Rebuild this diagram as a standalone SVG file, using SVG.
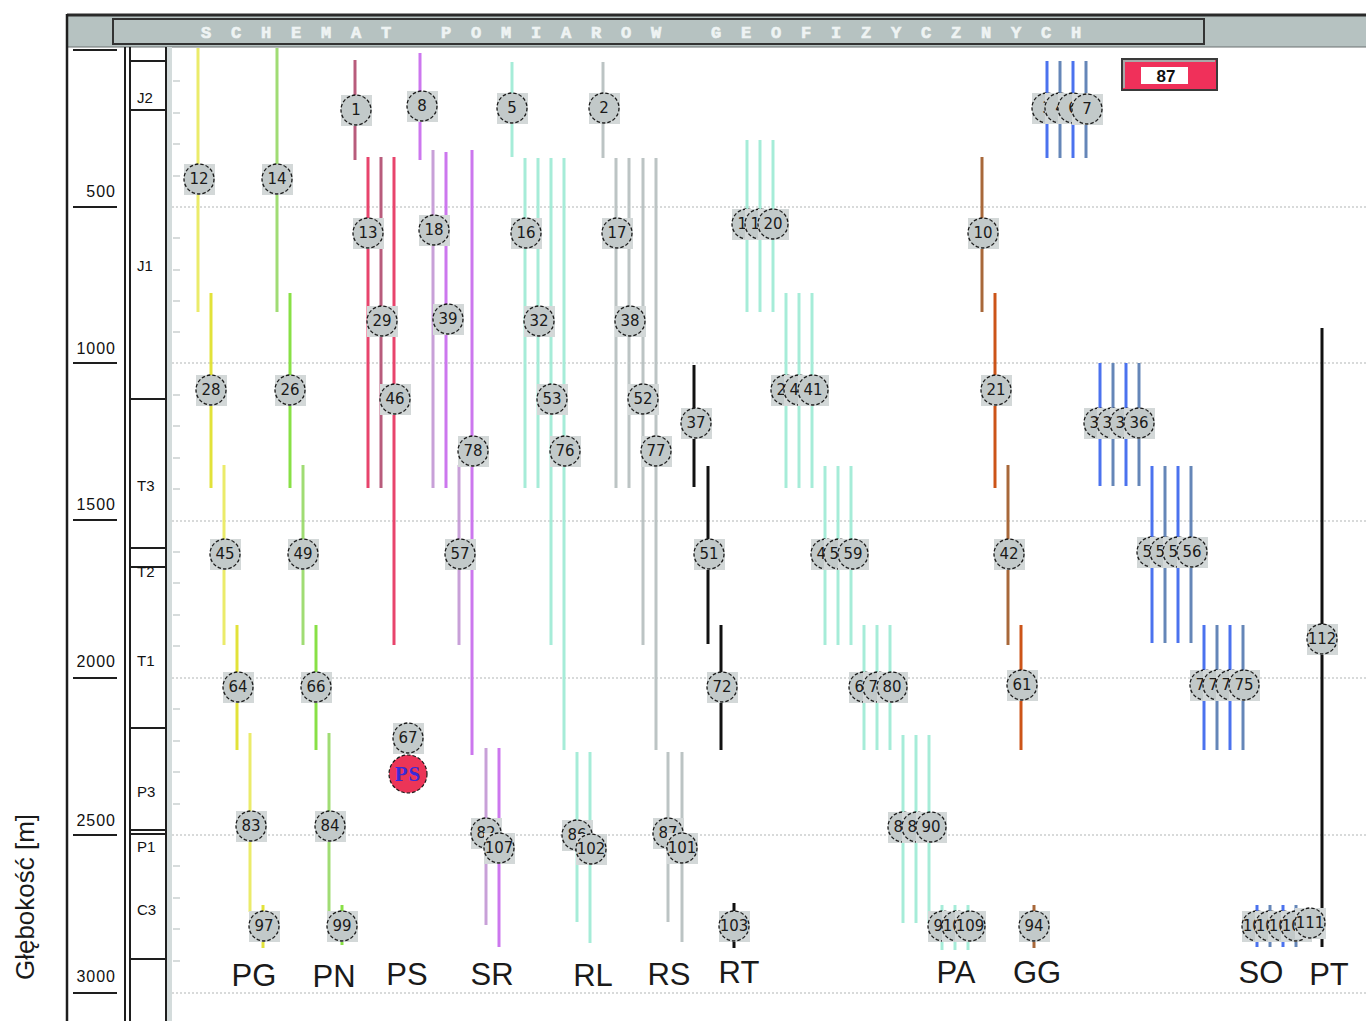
<svg xmlns="http://www.w3.org/2000/svg" width="1366" height="1021" viewBox="0 0 1366 1021">
<style>
  .grid{stroke:#b2b6b6;stroke-width:1.2;stroke-dasharray:2 2}
  .tick{stroke:#bcc4c4;stroke-width:1.2}
  .bar{stroke-width:3;fill:none}
  .node rect{fill:#d3d8d8}
  .node circle{fill:#c2c9c9;stroke:#1a1a1a;stroke-width:1.3;stroke-dasharray:3.5 2}
  .node text{font-family:"DejaVu Sans",sans-serif;font-size:15px;fill:#1a1a1a;text-anchor:middle;dominant-baseline:central}
  .col{font-family:"Liberation Sans",Arial,sans-serif;font-size:31px;fill:#1a1a1a;text-anchor:middle}
  .depth{font-family:"Liberation Sans",Arial,sans-serif;font-size:16px;fill:#111;letter-spacing:1px;text-anchor:end}
  .strat{font-family:"Liberation Sans",Arial,sans-serif;font-size:15px;fill:#111}
  .yl{stroke:#ebeb6a}.yd{stroke:#e2e23a}
  .gl{stroke:#a0dc74}.gd{stroke:#88e046}
  .pk{stroke:#b85c7c}.rd{stroke:#e8446c}
  .vl{stroke:#c8a0d8}.vd{stroke:#cc77ee}
  .mt{stroke:#a6ecd8}
  .gy{stroke:#bcc4c4}
  .bk{stroke:#111}
  .br{stroke:#a8683a}.or{stroke:#cc5418}
  .bb{stroke:#4b72ee}.bs{stroke:#6586b8}
</style>

<!-- page background -->
<rect x="0" y="0" width="1366" height="1021" fill="#fff"/>

<!-- header bar with title -->
<rect x="67" y="14" width="1299" height="33" fill="#b6c2c1"/>
<line x1="67" y1="15" x2="1366" y2="15" stroke="#2a2a2a" stroke-width="3"/>
<line x1="67" y1="47" x2="1366" y2="47" stroke="#6a7070" stroke-width="1"/>
<rect x="113" y="19" width="1091" height="25" fill="none" stroke="#333" stroke-width="2"/>
<text x="201" y="38" font-family="Liberation Mono, monospace" font-size="17" font-weight="bold" letter-spacing="19.8" fill="#eef3f3" stroke="#eef3f3" stroke-width="0.7">SCHEMAT POMIAROW GEOFIZYCZNYCH</text>

<!-- left frame, depth axis and stratigraphic column -->
<line x1="67" y1="14" x2="67" y2="1021" stroke="#1e1e1e" stroke-width="2.5"/>
<line x1="125" y1="47" x2="125" y2="1021" stroke="#1e1e1e" stroke-width="2"/>
<line x1="130" y1="47" x2="130" y2="1021" stroke="#1e1e1e" stroke-width="2"/>
<line x1="166" y1="47" x2="166" y2="1021" stroke="#1e1e1e" stroke-width="2"/>
<rect x="167" y="47" width="5" height="974" fill="#d4dcdc"/>

<g id="depth-scale">
  <g stroke="#1e1e1e" stroke-width="2">
    <line x1="73" y1="50" x2="117" y2="50"/>
    <line x1="73" y1="207" x2="117" y2="207"/>
    <line x1="73" y1="363" x2="117" y2="363"/>
    <line x1="73" y1="520" x2="117" y2="520"/>
    <line x1="73" y1="678" x2="117" y2="678"/>
    <line x1="73" y1="835" x2="117" y2="835"/>
    <line x1="73" y1="993" x2="117" y2="993"/>
  </g>
  <text class="depth" x="116" y="197">500</text>
  <text class="depth" x="116" y="354">1000</text>
  <text class="depth" x="116" y="510">1500</text>
  <text class="depth" x="116" y="667">2000</text>
  <text class="depth" x="116" y="826">2500</text>
  <text class="depth" x="116" y="982">3000</text>
</g>

<g id="stratigraphy">
  <g stroke="#1e1e1e" stroke-width="2">
    <line x1="130" y1="61" x2="166" y2="61"/>
    <line x1="130" y1="110" x2="166" y2="110"/>
    <line x1="130" y1="399" x2="166" y2="399"/>
    <line x1="130" y1="548" x2="166" y2="548"/>
    <line x1="130" y1="567" x2="166" y2="567"/>
    <line x1="130" y1="728" x2="166" y2="728"/>
    <line x1="130" y1="830" x2="166" y2="830"/>
    <line x1="130" y1="834" x2="166" y2="834"/>
    <line x1="130" y1="959" x2="166" y2="959"/>
  </g>
  <text class="strat" x="137" y="103">J2</text>
  <text class="strat" x="137" y="271">J1</text>
  <text class="strat" x="137" y="491">T3</text>
  <text class="strat" x="137" y="577">T2</text>
  <text class="strat" x="137" y="666">T1</text>
  <text class="strat" x="137" y="797">P3</text>
  <text class="strat" x="137" y="852">P1</text>
  <text class="strat" x="137" y="915">C3</text>
</g>

<!-- depth ticks every 100 m and dotted grid every 500 m -->
<g id="ticks" class="tick">
  <line x1="173" y1="81" x2="180" y2="81"/><line x1="173" y1="113" x2="180" y2="113"/>
  <line x1="173" y1="144" x2="180" y2="144"/><line x1="173" y1="176" x2="180" y2="176"/>
  <line x1="173" y1="238" x2="180" y2="238"/><line x1="173" y1="270" x2="180" y2="270"/>
  <line x1="173" y1="301" x2="180" y2="301"/><line x1="173" y1="332" x2="180" y2="332"/>
  <line x1="173" y1="395" x2="180" y2="395"/><line x1="173" y1="426" x2="180" y2="426"/>
  <line x1="173" y1="458" x2="180" y2="458"/><line x1="173" y1="489" x2="180" y2="489"/>
  <line x1="173" y1="552" x2="180" y2="552"/><line x1="173" y1="583" x2="180" y2="583"/>
  <line x1="173" y1="615" x2="180" y2="615"/><line x1="173" y1="646" x2="180" y2="646"/>
  <line x1="173" y1="709" x2="180" y2="709"/><line x1="173" y1="741" x2="180" y2="741"/>
  <line x1="173" y1="772" x2="180" y2="772"/><line x1="173" y1="804" x2="180" y2="804"/>
  <line x1="173" y1="866" x2="180" y2="866"/><line x1="173" y1="898" x2="180" y2="898"/>
  <line x1="173" y1="929" x2="180" y2="929"/><line x1="173" y1="961" x2="180" y2="961"/>
</g>
<g id="grid" class="grid">
  <line x1="172" y1="207" x2="1366" y2="207"/>
  <line x1="172" y1="363" x2="1366" y2="363"/>
  <line x1="172" y1="521" x2="1366" y2="521"/>
  <line x1="172" y1="678" x2="1366" y2="678"/>
  <line x1="172" y1="835" x2="1366" y2="835"/>
  <line x1="172" y1="993" x2="1366" y2="993"/>
</g>

<!-- measurement interval bars -->
<g id="connectors" class="bar">
  <!-- PG -->
  <line class="yl" x1="198" y1="48" x2="198" y2="312"/>
  <line class="yd" x1="211" y1="293" x2="211" y2="488"/>
  <line class="yl" x1="224" y1="465" x2="224" y2="645"/>
  <line class="yd" x1="237" y1="625" x2="237" y2="750"/>
  <line class="yl" x1="250" y1="733" x2="250" y2="912"/>
  <line class="yd" x1="263" y1="905" x2="263" y2="948"/>
  <!-- PN -->
  <line class="gl" x1="277" y1="48" x2="277" y2="312"/>
  <line class="gd" x1="290" y1="293" x2="290" y2="488"/>
  <line class="gl" x1="303" y1="465" x2="303" y2="645"/>
  <line class="gd" x1="316" y1="625" x2="316" y2="750"/>
  <line class="gl" x1="329" y1="733" x2="329" y2="912"/>
  <line class="gd" x1="342" y1="905" x2="342" y2="945"/>
  <!-- PS -->
  <line class="pk" x1="355" y1="60" x2="355" y2="160"/>
  <line class="rd" x1="368" y1="157" x2="368" y2="488"/>
  <line class="pk" x1="381" y1="157" x2="381" y2="488"/>
  <line class="rd" x1="394" y1="157" x2="394" y2="645"/>
  <!-- SR -->
  <line class="vd" x1="420" y1="53" x2="420" y2="160"/>
  <line class="vl" x1="433" y1="150" x2="433" y2="488"/>
  <line class="vd" x1="446" y1="152" x2="446" y2="488"/>
  <line class="vl" x1="459" y1="465" x2="459" y2="645"/>
  <line class="vd" x1="472" y1="150" x2="472" y2="755"/>
  <line class="vl" x1="486" y1="748" x2="486" y2="925"/>
  <line class="vd" x1="499" y1="748" x2="499" y2="947"/>
  <!-- RL -->
  <g class="mt">
    <line x1="512" y1="62" x2="512" y2="157"/>
    <line x1="525" y1="158" x2="525" y2="488"/>
    <line x1="538" y1="158" x2="538" y2="488"/>
    <line x1="551" y1="158" x2="551" y2="645"/>
    <line x1="564" y1="158" x2="564" y2="750"/>
    <line x1="577" y1="752" x2="577" y2="922"/>
    <line x1="590" y1="752" x2="590" y2="943"/>
  </g>
  <!-- RS -->
  <g class="gy">
    <line x1="603" y1="62" x2="603" y2="158"/>
    <line x1="616" y1="158" x2="616" y2="488"/>
    <line x1="629" y1="158" x2="629" y2="488"/>
    <line x1="643" y1="158" x2="643" y2="645"/>
    <line x1="656" y1="158" x2="656" y2="750"/>
    <line x1="668" y1="752" x2="668" y2="922"/>
    <line x1="682" y1="752" x2="682" y2="942"/>
  </g>
  <!-- RT -->
  <g class="bk">
    <line x1="694" y1="365" x2="694" y2="487"/>
    <line x1="708" y1="466" x2="708" y2="644"/>
    <line x1="721" y1="625" x2="721" y2="750"/>
    <line x1="734" y1="903" x2="734" y2="948"/>
  </g>
  <!-- PA -->
  <g class="mt">
    <line x1="747" y1="140" x2="747" y2="312"/><line x1="760" y1="140" x2="760" y2="312"/><line x1="773" y1="140" x2="773" y2="312"/>
    <line x1="786" y1="293" x2="786" y2="488"/><line x1="799" y1="293" x2="799" y2="488"/><line x1="812" y1="293" x2="812" y2="488"/>
    <line x1="825" y1="466" x2="825" y2="645"/><line x1="838" y1="466" x2="838" y2="645"/><line x1="851" y1="466" x2="851" y2="645"/>
    <line x1="864" y1="625" x2="864" y2="750"/><line x1="877" y1="625" x2="877" y2="750"/><line x1="890" y1="625" x2="890" y2="750"/>
    <line x1="903" y1="735" x2="903" y2="923"/><line x1="916" y1="735" x2="916" y2="923"/><line x1="929" y1="735" x2="929" y2="923"/>
    <line x1="942" y1="905" x2="942" y2="950"/><line x1="955" y1="905" x2="955" y2="950"/><line x1="968" y1="905" x2="968" y2="950"/>
  </g>
  <!-- GG -->
  <line class="br" x1="982" y1="157" x2="982" y2="312"/>
  <line class="or" x1="995" y1="293" x2="995" y2="488"/>
  <line class="br" x1="1008" y1="465" x2="1008" y2="645"/>
  <line class="or" x1="1021" y1="625" x2="1021" y2="750"/>
  <line class="br" x1="1034" y1="905" x2="1034" y2="948"/>
  <!-- SO -->
  <line class="bb" x1="1047" y1="61" x2="1047" y2="158"/><line class="bs" x1="1060" y1="61" x2="1060" y2="158"/>
  <line class="bb" x1="1073" y1="61" x2="1073" y2="158"/><line class="bs" x1="1086" y1="61" x2="1086" y2="158"/>
  <line class="bb" x1="1100" y1="363" x2="1100" y2="486"/><line class="bs" x1="1113" y1="363" x2="1113" y2="486"/>
  <line class="bb" x1="1126" y1="363" x2="1126" y2="486"/><line class="bs" x1="1139" y1="363" x2="1139" y2="486"/>
  <line class="bb" x1="1152" y1="466" x2="1152" y2="643"/><line class="bs" x1="1165" y1="466" x2="1165" y2="643"/>
  <line class="bb" x1="1178" y1="466" x2="1178" y2="643"/><line class="bs" x1="1191" y1="466" x2="1191" y2="643"/>
  <line class="bb" x1="1204" y1="625" x2="1204" y2="750"/><line class="bs" x1="1217" y1="625" x2="1217" y2="750"/>
  <line class="bb" x1="1230" y1="625" x2="1230" y2="750"/><line class="bs" x1="1243" y1="625" x2="1243" y2="750"/>
  <line class="bb" x1="1257" y1="905" x2="1257" y2="947"/><line class="bs" x1="1270" y1="905" x2="1270" y2="947"/>
  <line class="bb" x1="1283" y1="905" x2="1283" y2="947"/><line class="bs" x1="1296" y1="905" x2="1296" y2="947"/>
  <!-- PT -->
  <line class="bk" x1="1322" y1="328" x2="1322" y2="947"/>
</g>

<!-- measurement nodes -->
<g id="nodes">
  <!-- PG -->
  <g id="n12" class="node" transform="translate(199,179)"><rect x="-15" y="-15" width="31" height="31"/><circle r="15"/><text>12</text></g>
  <g id="n28" class="node" transform="translate(211,390)"><rect x="-15" y="-15" width="31" height="31"/><circle r="15"/><text>28</text></g>
  <g id="n45" class="node" transform="translate(225,554)"><rect x="-15" y="-15" width="31" height="31"/><circle r="15"/><text>45</text></g>
  <g id="n64" class="node" transform="translate(238,687)"><rect x="-15" y="-15" width="31" height="31"/><circle r="15"/><text>64</text></g>
  <g id="n83" class="node" transform="translate(251,826)"><rect x="-15" y="-15" width="31" height="31"/><circle r="15"/><text>83</text></g>
  <g id="n97" class="node" transform="translate(264,926)"><rect x="-15" y="-15" width="31" height="31"/><circle r="15"/><text>97</text></g>
  <!-- PN -->
  <g id="n14" class="node" transform="translate(277,179)"><rect x="-15" y="-15" width="31" height="31"/><circle r="15"/><text>14</text></g>
  <g id="n26" class="node" transform="translate(290,390)"><rect x="-15" y="-15" width="31" height="31"/><circle r="15"/><text>26</text></g>
  <g id="n49" class="node" transform="translate(303,554)"><rect x="-15" y="-15" width="31" height="31"/><circle r="15"/><text>49</text></g>
  <g id="n66" class="node" transform="translate(316,687)"><rect x="-15" y="-15" width="31" height="31"/><circle r="15"/><text>66</text></g>
  <g id="n84" class="node" transform="translate(330,826)"><rect x="-15" y="-15" width="31" height="31"/><circle r="15"/><text>84</text></g>
  <g id="n99" class="node" transform="translate(342,926)"><rect x="-15" y="-15" width="31" height="31"/><circle r="15"/><text>99</text></g>
  <!-- PS -->
  <g id="n1" class="node" transform="translate(356,110)"><rect x="-15" y="-15" width="31" height="31"/><circle r="15"/><text>1</text></g>
  <g id="n13" class="node" transform="translate(368,233)"><rect x="-15" y="-15" width="31" height="31"/><circle r="15"/><text>13</text></g>
  <g id="n29" class="node" transform="translate(382,321)"><rect x="-15" y="-15" width="31" height="31"/><circle r="15"/><text>29</text></g>
  <g id="n46" class="node" transform="translate(395,399)"><rect x="-15" y="-15" width="31" height="31"/><circle r="15"/><text>46</text></g>
  <g id="n67" class="node" transform="translate(408,738)"><rect x="-15" y="-15" width="31" height="31"/><circle r="15"/><text>67</text></g>
  <g id="ps-marker" transform="translate(408,774)">
    <circle r="19" fill="#ec3558" stroke="#1a1a1a" stroke-width="1.2" stroke-dasharray="3.5 2"/>
    <text y="7" text-anchor="middle" font-family="Liberation Serif, serif" font-weight="bold" font-size="21" letter-spacing="1" fill="#3a2ad8">PS</text>
  </g>
  <!-- SR -->
  <g id="n8" class="node" transform="translate(422,106)"><rect x="-15" y="-15" width="31" height="31"/><circle r="15"/><text>8</text></g>
  <g id="n18" class="node" transform="translate(434,230)"><rect x="-15" y="-15" width="31" height="31"/><circle r="15"/><text>18</text></g>
  <g id="n39" class="node" transform="translate(448,319)"><rect x="-15" y="-15" width="31" height="31"/><circle r="15"/><text>39</text></g>
  <g id="n78" class="node" transform="translate(473,451)"><rect x="-15" y="-15" width="31" height="31"/><circle r="15"/><text>78</text></g>
  <g id="n57" class="node" transform="translate(460,554)"><rect x="-15" y="-15" width="31" height="31"/><circle r="15"/><text>57</text></g>
  <g id="n82" class="node" transform="translate(486,833)"><rect x="-15" y="-15" width="31" height="31"/><circle r="15"/><text>82</text></g>
  <g id="n107" class="node" transform="translate(499,848)"><rect x="-15" y="-15" width="31" height="31"/><circle r="15"/><text>107</text></g>
  <!-- RL -->
  <g id="n5" class="node" transform="translate(512,108)"><rect x="-15" y="-15" width="31" height="31"/><circle r="15"/><text>5</text></g>
  <g id="n16" class="node" transform="translate(526,233)"><rect x="-15" y="-15" width="31" height="31"/><circle r="15"/><text>16</text></g>
  <g id="n32" class="node" transform="translate(539,321)"><rect x="-15" y="-15" width="31" height="31"/><circle r="15"/><text>32</text></g>
  <g id="n53" class="node" transform="translate(552,399)"><rect x="-15" y="-15" width="31" height="31"/><circle r="15"/><text>53</text></g>
  <g id="n76" class="node" transform="translate(565,451)"><rect x="-15" y="-15" width="31" height="31"/><circle r="15"/><text>76</text></g>
  <g id="n86" class="node" transform="translate(577,835)"><rect x="-15" y="-15" width="31" height="31"/><circle r="15"/><text>86</text></g>
  <g id="n102" class="node" transform="translate(591,849)"><rect x="-15" y="-15" width="31" height="31"/><circle r="15"/><text>102</text></g>
  <!-- RS -->
  <g id="n2" class="node" transform="translate(604,108)"><rect x="-15" y="-15" width="31" height="31"/><circle r="15"/><text>2</text></g>
  <g id="n17" class="node" transform="translate(617,233)"><rect x="-15" y="-15" width="31" height="31"/><circle r="15"/><text>17</text></g>
  <g id="n38" class="node" transform="translate(630,321)"><rect x="-15" y="-15" width="31" height="31"/><circle r="15"/><text>38</text></g>
  <g id="n52" class="node" transform="translate(643,399)"><rect x="-15" y="-15" width="31" height="31"/><circle r="15"/><text>52</text></g>
  <g id="n77" class="node" transform="translate(656,451)"><rect x="-15" y="-15" width="31" height="31"/><circle r="15"/><text>77</text></g>
  <g id="n87" class="node" transform="translate(668,833)"><rect x="-15" y="-15" width="31" height="31"/><circle r="15"/><text>87</text></g>
  <g id="n101" class="node" transform="translate(682,848)"><rect x="-15" y="-15" width="31" height="31"/><circle r="15"/><text>101</text></g>
  <!-- RT -->
  <g id="n37" class="node" transform="translate(696,423)"><rect x="-15" y="-15" width="31" height="31"/><circle r="15"/><text>37</text></g>
  <g id="n51" class="node" transform="translate(709,554)"><rect x="-15" y="-15" width="31" height="31"/><circle r="15"/><text>51</text></g>
  <g id="n72" class="node" transform="translate(722,687)"><rect x="-15" y="-15" width="31" height="31"/><circle r="15"/><text>72</text></g>
  <g id="n103" class="node" transform="translate(734,926)"><rect x="-15" y="-15" width="31" height="31"/><circle r="15"/><text>103</text></g>
  <!-- PA -->
  <g id="n11" class="node" transform="translate(747,224)"><rect x="-15" y="-15" width="31" height="31"/><circle r="15"/><text>11</text></g>
  <g id="n19" class="node" transform="translate(760,224)"><rect x="-15" y="-15" width="31" height="31"/><circle r="15"/><text>19</text></g>
  <g id="n20" class="node" transform="translate(773,224)"><rect x="-15" y="-15" width="31" height="31"/><circle r="15"/><text>20</text></g>
  <g id="n24" class="node" transform="translate(786,390)"><rect x="-15" y="-15" width="31" height="31"/><circle r="15"/><text>24</text></g>
  <g id="n40" class="node" transform="translate(799,390)"><rect x="-15" y="-15" width="31" height="31"/><circle r="15"/><text>40</text></g>
  <g id="n41" class="node" transform="translate(813,390)"><rect x="-15" y="-15" width="31" height="31"/><circle r="15"/><text>41</text></g>
  <g id="n43" class="node" transform="translate(826,554)"><rect x="-15" y="-15" width="31" height="31"/><circle r="15"/><text>43</text></g>
  <g id="n58" class="node" transform="translate(839,554)"><rect x="-15" y="-15" width="31" height="31"/><circle r="15"/><text>58</text></g>
  <g id="n59" class="node" transform="translate(853,554)"><rect x="-15" y="-15" width="31" height="31"/><circle r="15"/><text>59</text></g>
  <g id="n68" class="node" transform="translate(864,687)"><rect x="-15" y="-15" width="31" height="31"/><circle r="15"/><text>68</text></g>
  <g id="n79" class="node" transform="translate(878,687)"><rect x="-15" y="-15" width="31" height="31"/><circle r="15"/><text>79</text></g>
  <g id="n80" class="node" transform="translate(892,687)"><rect x="-15" y="-15" width="31" height="31"/><circle r="15"/><text>80</text></g>
  <g id="n88" class="node" transform="translate(903,827)"><rect x="-15" y="-15" width="31" height="31"/><circle r="15"/><text>88</text></g>
  <g id="n89" class="node" transform="translate(917,827)"><rect x="-15" y="-15" width="31" height="31"/><circle r="15"/><text>89</text></g>
  <g id="n90" class="node" transform="translate(931,827)"><rect x="-15" y="-15" width="31" height="31"/><circle r="15"/><text>90</text></g>
  <g id="n95" class="node" transform="translate(943,926)"><rect x="-15" y="-15" width="31" height="31"/><circle r="15"/><text>95</text></g>
  <g id="n108" class="node" transform="translate(957,926)"><rect x="-15" y="-15" width="31" height="31"/><circle r="15"/><text>108</text></g>
  <g id="n109" class="node" transform="translate(970,926)"><rect x="-15" y="-15" width="31" height="31"/><circle r="15"/><text>109</text></g>
  <!-- GG -->
  <g id="n10" class="node" transform="translate(983,233)"><rect x="-15" y="-15" width="31" height="31"/><circle r="15"/><text>10</text></g>
  <g id="n21" class="node" transform="translate(996,390)"><rect x="-15" y="-15" width="31" height="31"/><circle r="15"/><text>21</text></g>
  <g id="n42" class="node" transform="translate(1009,554)"><rect x="-15" y="-15" width="31" height="31"/><circle r="15"/><text>42</text></g>
  <g id="n61" class="node" transform="translate(1022,685)"><rect x="-15" y="-15" width="31" height="31"/><circle r="15"/><text>61</text></g>
  <g id="n94" class="node" transform="translate(1034,926)"><rect x="-15" y="-15" width="31" height="31"/><circle r="15"/><text>94</text></g>
  <!-- SO -->
  <g id="n3" class="node" transform="translate(1047,108)"><rect x="-15" y="-15" width="31" height="31"/><circle r="15"/><text>3</text></g>
  <g id="n4" class="node" transform="translate(1060,108)"><rect x="-15" y="-15" width="31" height="31"/><circle r="15"/><text>4</text></g>
  <g id="n6" class="node" transform="translate(1073,108)"><rect x="-15" y="-15" width="31" height="31"/><circle r="15"/><text>6</text></g>
  <g id="n7" class="node" transform="translate(1087,109)"><rect x="-15" y="-15" width="31" height="31"/><circle r="15"/><text>7</text></g>
  <g id="n33" class="node" transform="translate(1099,423)"><rect x="-15" y="-15" width="31" height="31"/><circle r="15"/><text>33</text></g>
  <g id="n34" class="node" transform="translate(1112,423)"><rect x="-15" y="-15" width="31" height="31"/><circle r="15"/><text>34</text></g>
  <g id="n35" class="node" transform="translate(1125,423)"><rect x="-15" y="-15" width="31" height="31"/><circle r="15"/><text>35</text></g>
  <g id="n36" class="node" transform="translate(1139,423)"><rect x="-15" y="-15" width="31" height="31"/><circle r="15"/><text>36</text></g>
  <g id="n50" class="node" transform="translate(1152,552)"><rect x="-15" y="-15" width="31" height="31"/><circle r="15"/><text>50</text></g>
  <g id="n54" class="node" transform="translate(1165,552)"><rect x="-15" y="-15" width="31" height="31"/><circle r="15"/><text>54</text></g>
  <g id="n55" class="node" transform="translate(1178,552)"><rect x="-15" y="-15" width="31" height="31"/><circle r="15"/><text>55</text></g>
  <g id="n56" class="node" transform="translate(1192,552)"><rect x="-15" y="-15" width="31" height="31"/><circle r="15"/><text>56</text></g>
  <g id="n70" class="node" transform="translate(1205,685)"><rect x="-15" y="-15" width="31" height="31"/><circle r="15"/><text>70</text></g>
  <g id="n71" class="node" transform="translate(1218,685)"><rect x="-15" y="-15" width="31" height="31"/><circle r="15"/><text>71</text></g>
  <g id="n73" class="node" transform="translate(1231,685)"><rect x="-15" y="-15" width="31" height="31"/><circle r="15"/><text>73</text></g>
  <g id="n75" class="node" transform="translate(1244,685)"><rect x="-15" y="-15" width="31" height="31"/><circle r="15"/><text>75</text></g>
  <g id="n100" class="node" transform="translate(1257,926)"><rect x="-15" y="-15" width="31" height="31"/><circle r="15"/><text>100</text></g>
  <g id="n104" class="node" transform="translate(1270,926)"><rect x="-15" y="-15" width="31" height="31"/><circle r="15"/><text>104</text></g>
  <g id="n105" class="node" transform="translate(1283,926)"><rect x="-15" y="-15" width="31" height="31"/><circle r="15"/><text>105</text></g>
  <g id="n106" class="node" transform="translate(1296,926)"><rect x="-15" y="-15" width="31" height="31"/><circle r="15"/><text>106</text></g>
  <!-- PT -->
  <g id="n111" class="node" transform="translate(1310,923)"><rect x="-15" y="-15" width="31" height="31"/><circle r="15"/><text>111</text></g>
  <g id="n112" class="node" transform="translate(1322,639)"><rect x="-15" y="-15" width="31" height="31"/><circle r="15"/><text>112</text></g>
</g>

<!-- counter box -->
<g id="counter">
  <rect x="1122" y="59" width="95" height="31" fill="#f0305a" stroke="#3a3a3a" stroke-width="2"/>
  <polyline points="1124,88 1124,61 1215,61" fill="none" stroke="#a8a8a8" stroke-width="2"/>
  <rect x="1141" y="67" width="47" height="17" fill="#fff"/>
  <text x="1166" y="82" text-anchor="middle" font-family="Liberation Sans, Arial, sans-serif" font-weight="bold" font-size="17" fill="#111">87</text>
</g>

<!-- column names -->
<g id="column-labels">
  <text class="col" x="254" y="986">PG</text>
  <text class="col" x="334" y="987">PN</text>
  <text class="col" x="407" y="985">PS</text>
  <text class="col" x="492" y="985">SR</text>
  <text class="col" x="593" y="986">RL</text>
  <text class="col" x="669" y="985">RS</text>
  <text class="col" x="739" y="983">RT</text>
  <text class="col" x="956" y="983">PA</text>
  <text class="col" x="1037" y="983">GG</text>
  <text class="col" x="1261" y="983">SO</text>
  <text class="col" x="1329" y="985">PT</text>
</g>

<!-- depth axis title -->
<text transform="translate(34,897) rotate(-90)" text-anchor="middle" font-family="Liberation Sans, Arial, sans-serif" font-size="26" fill="#1a1a1a">Głębokość [m]</text>
</svg>
